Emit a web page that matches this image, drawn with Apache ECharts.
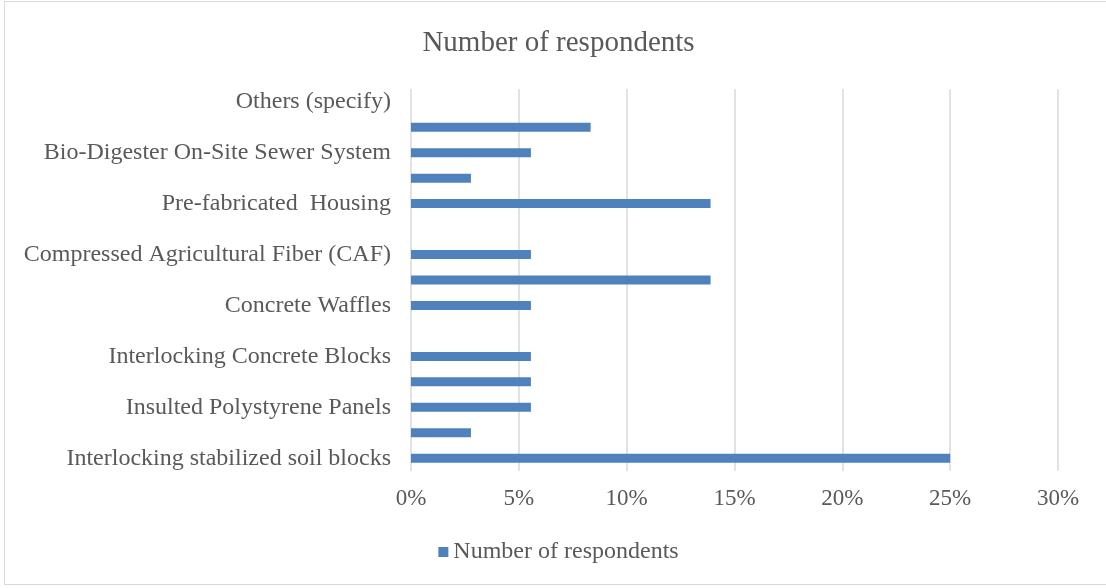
<!DOCTYPE html>
<html>
<head>
<meta charset="utf-8">
<script src="https://cdn.jsdelivr.net/npm/echarts@6/dist/echarts.min.js"></script>
<style>
  html, body { margin: 0; padding: 0; background: #fff; overflow: hidden; }
  #main { position: absolute; left: 4px; top: 1px; width: 1109px; height: 584px; border: 1px solid #d9d9d9; box-sizing: border-box; }
</style>
</head>
<body>
<div id="main"></div>
<script>
// categories bottom -> top (every second label is skipped on the axis, like in Excel)
var techniques = [
  'Interlocking stabilized soil blocks',
  'Expanded Polystyrene Blocks',
  'Insulted Polystyrene Panels',
  'Light Gauge Steel Framing',
  'Interlocking Concrete Blocks',
  'Bamboo Construction',
  'Concrete Waffles',
  'Precast Concrete Panels',
  'Compressed Agricultural Fiber (CAF)',
  'Rammed Earth',
  'Pre-fabricated  Housing',
  'Rainwater Harvesting System',
  'Bio-Digester On-Site Sewer System',
  'Solar Energy Systems',
  'Others (specify)'
];
// share of respondents, %
var respondents = [25, 2.78, 5.56, 5.56, 5.56, 0, 5.56, 13.89, 5.56, 0, 13.89, 2.78, 5.56, 8.33, 0];
var xTicks = [0, 5, 10, 15, 20, 25, 30];

var myChart = echarts.init(document.getElementById('main'));
myChart.setOption({
    textStyle: { fontFamily: 'Liberation Serif' },
    title: {
        text: 'Number of respondents',
        left: 'center',
        top: 22,
        textStyle: { fontFamily: 'Liberation Serif', fontSize: 29, fontWeight: 'normal', color: '#595959' }
    },
    legend: {
        left: 'center',
        bottom: 15,
        itemWidth: 10,
        itemHeight: 10,
        itemGap: 4,
        icon: 'rect',
        textStyle: { fontFamily: 'Liberation Serif', fontSize: 24, color: '#595959' },
        data: ['Number of respondents']
    },
    grid: { left: 406, right: 54, top: 87, bottom: 113 },
    xAxis: {
        type: 'value',
        min: xTicks[0],
        max: xTicks[xTicks.length - 1],
        interval: 5,
        axisLine: { show: false },
        axisTick: { show: false },
        axisLabel: {
            formatter: '{value}%',
            margin: 16,
            fontFamily: 'Liberation Serif', fontSize: 23, color: '#595959'
        },
        splitLine: { lineStyle: { color: '#d9d9d9', width: 1.5 } }
    },
    yAxis: {
        type: 'category',
        data: techniques,
        axisLine: { show: false },
        axisTick: { show: false },
        axisLabel: {
            interval: 1,
            margin: 20,
            fontFamily: 'Liberation Serif', fontSize: 24, color: '#595959'
        }
    },
    series: [
        {
            name: 'Number of respondents',
            type: 'bar',
            data: respondents,
            barWidth: 9,
            itemStyle: { color: '#4f81bd' }
        }
    ]
});
</script>
</body>
</html>
